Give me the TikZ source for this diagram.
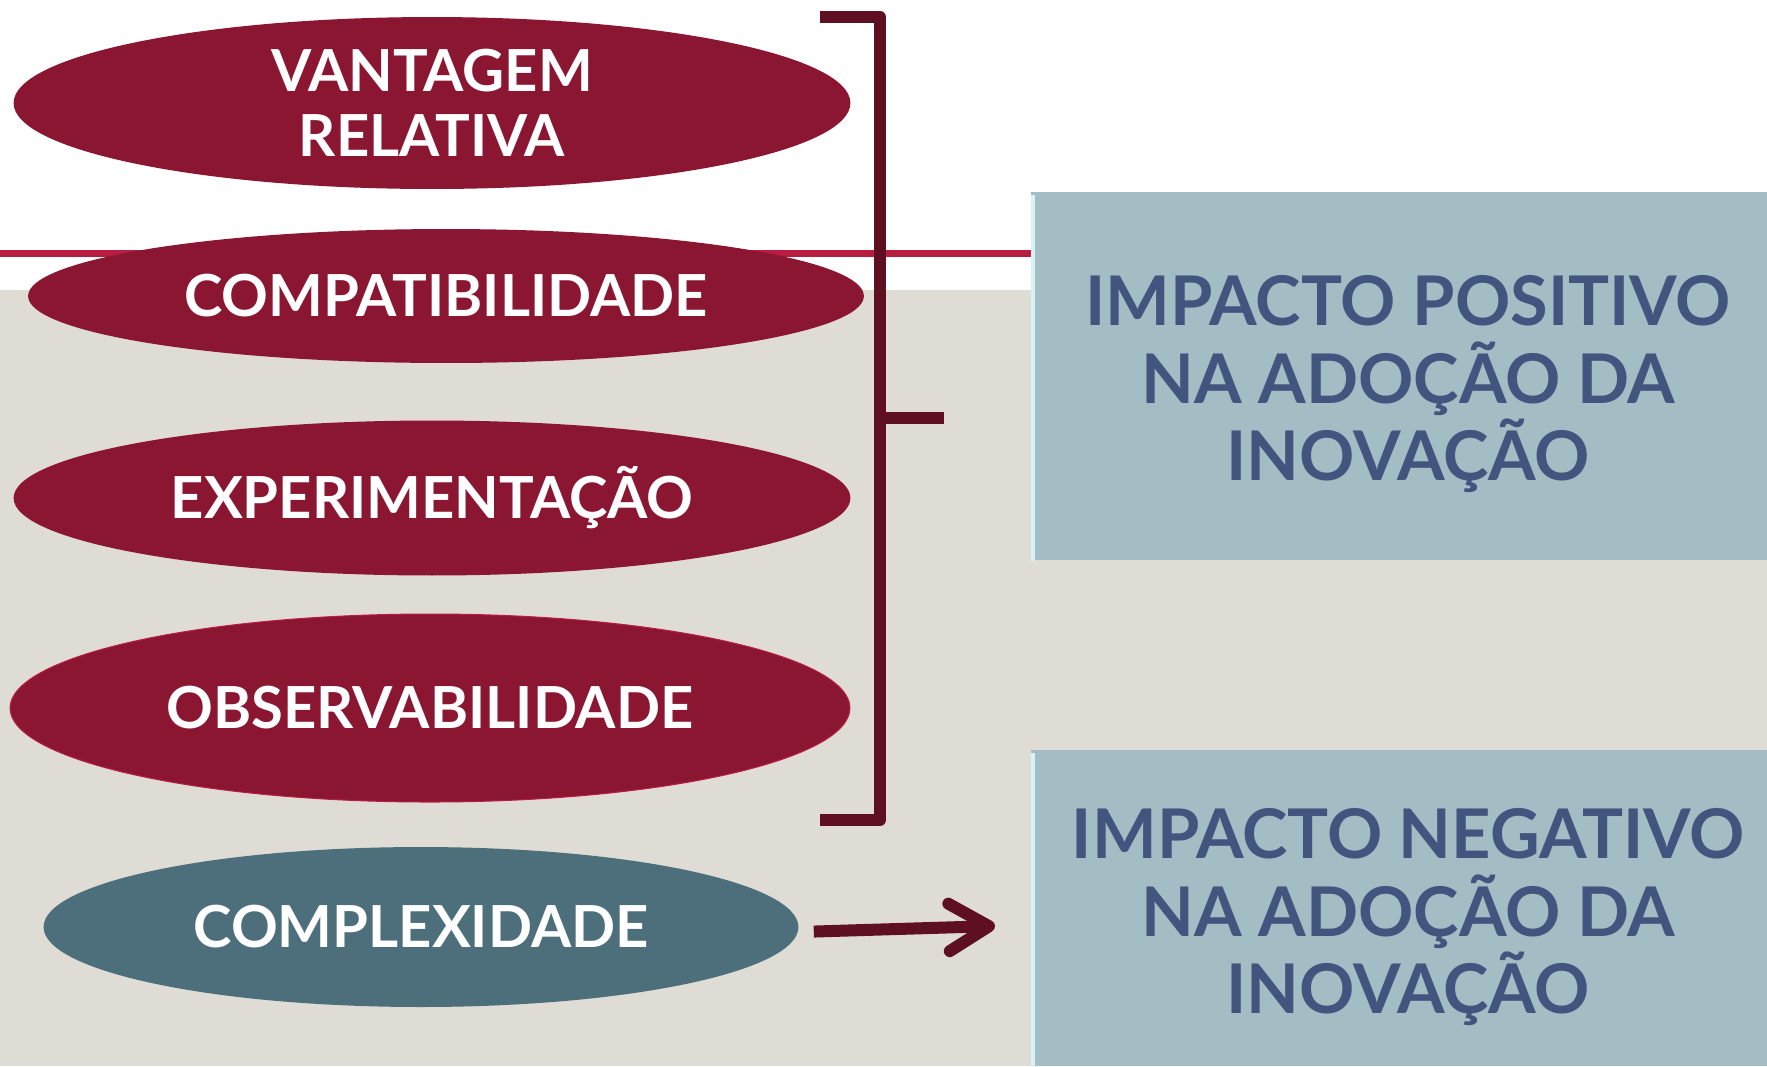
\documentclass[tikz,border=0pt]{standalone}
\usepackage{fontspec}
\setmainfont{Lato}
\usepackage{tikz}
\usetikzlibrary{arrows.meta, positioning, shapes.geometric}
\definecolor{paper gray}{HTML}{DFDCD6}
\definecolor{wine}{HTML}{8B1632}
\definecolor{dark wine}{HTML}{5E0F22}
\definecolor{rule red}{HTML}{B71D3F}
\definecolor{slate teal}{HTML}{4D6F7B}
\definecolor{impact blue}{HTML}{A4BCC4}
\definecolor{impact text}{HTML}{43557E}
\definecolor{bevel light}{HTML}{D8F2F6}

\begin{document}
\begin{tikzpicture}
        [x=0.02cm, y=-0.02cm,
         ellipsesty/.style={ellipse,
                            inner sep=0pt,
                            fill=wine,
                            text=white,
                            align=center,
                            font=\fontsize{33}{36.8}\selectfont\bfseries},
         boxsty/.style={rectangle,
                        inner sep=0pt,
                        anchor=north west,
                        minimum width=14.72cm,
                        fill=impact blue},
         impactsty/.style={inner sep=0pt,
                           text=impact text,
                           align=center,
                           font=\fontsize{39}{44}\selectfont\bfseries},
         bracketsty/.style={draw=dark wine, line width=0.24cm, line join=round},
         post/.style={-{Straight Barb[length=0.8cm, width=0.95cm, line cap=round, line join=round]},
                      draw=dark wine, line width=0.24cm}]

        \useasboundingbox (0, 0) rectangle (1767, 1066);
        \fill[white] (0, 0) rectangle (1767, 1066);
        \fill[paper gray] (0, 290) rectangle (1767, 1066);
        \draw[rule red, line width=0.14cm] (0, 253) -- (1031, 253);

        \node[ellipsesty, minimum width=16.74cm, minimum height=3.44cm] (vantagem) at (432, 103)
                {VANTAGEM\\RELATIVA};
        \node[ellipsesty, minimum width=16.72cm, minimum height=2.68cm] (compat) at (446, 296)
                {COMPATIBILIDADE};
        \node[ellipsesty, minimum width=16.74cm, minimum height=3.1cm] (experim) at (432, 498)
                {EXPERIMENTAÇÃO};
        \node[ellipsesty, minimum width=16.8cm, minimum height=3.76cm,
              draw=rule red, line width=0.6pt] (observ) at (430, 708)
                {OBSERVABILIDADE};
        \node[ellipsesty, fill=slate teal, minimum width=15.1cm, minimum height=3.2cm] (complex) at (421, 927)
                {COMPLEXIDADE};

        \coordinate (bracket top) at (820, 17);
        \coordinate (bracket bottom) at (820, 820);
        \coordinate (bracket tip) at (944, 418);
        \draw[bracketsty] (bracket top) -| (880, 820) -- (bracket bottom);
        \draw[bracketsty] (880, 418) -- (bracket tip);

        \node[boxsty, minimum height=7.36cm] (positivo) at (1031, 192) {};
        \node[impactsty] (positivo text) at ([shift={(9, 8)}]positivo.center)
                {IMPACTO POSITIVO\\NA ADOÇÃO DA\\INOVAÇÃO};
        \node[boxsty, minimum height=6.32cm] (negativo) at (1031, 750) {};
        \node[impactsty] (negativo text) at ([shift={(9, 9)}]negativo.center)
                {IMPACTO NEGATIVO\\NA ADOÇÃO DA\\INOVAÇÃO};
        \draw[bevel light, line width=0.08cm] (positivo.south west) ++(2, 0) -- ++(0, -366);
        \draw[bevel light, line width=0.08cm] (negativo.south west) ++(2, 0) -- ++(0, -314);

        \coordinate (arrow end) at (995, 926);
        \draw[post, shorten <=0.3cm] ([yshift=-0.1cm]complex.east) -- (arrow end);
\end{tikzpicture}
\end{document}
